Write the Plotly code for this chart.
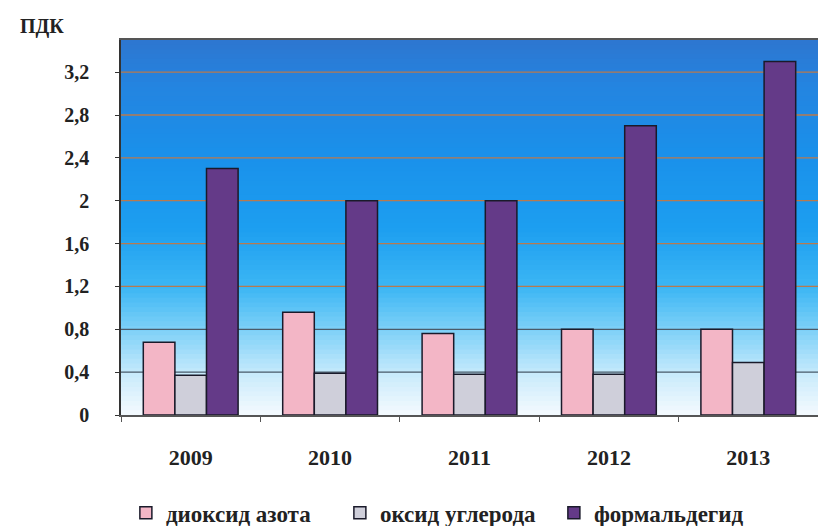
import plotly.graph_objects as go

years = ["2009", "2010", "2011", "2012", "2013"]
no2 = [0.68, 0.96, 0.76, 0.80, 0.80]
co = [0.37, 0.39, 0.38, 0.38, 0.49]
ch2o = [2.30, 2.00, 2.00, 2.70, 3.30]
series_names = ["диоксид азота", "оксид углерода", "формальдегид"]
tick_vals = [0, 0.4, 0.8, 1.2, 1.6, 2.0, 2.4, 2.8, 3.2]
tick_text = ["0", "0,4", "0,8", "1,2", "1,6", "2", "2,4", "2,8", "3,2"]

colors = ["#f3b6c6", "#cfcfda", "#643a88"]
FONT = "'Liberation Serif', 'DejaVu Serif', serif"

fig = go.Figure()
for name, vals, col in zip(series_names, [no2, co, ch2o], colors):
    fig.add_trace(go.Bar(
        x=years, y=vals, name=name,
        marker=dict(color=col, line=dict(color="#1a1a2a", width=1.5)),
    ))

# gradient background (bottom -> top)
stops = [
    (0.00, (244, 250, 254)),
    (0.10, (205, 236, 252)),
    (0.22, (130, 210, 248)),
    (0.34, (60, 182, 244)),
    (0.50, (28, 158, 240)),
    (0.70, (26, 144, 234)),
    (0.88, (36, 132, 224)),
    (1.00, (46, 118, 208)),
]

def interp(f):
    for (f0, c0), (f1, c1) in zip(stops[:-1], stops[1:]):
        if f0 <= f <= f1:
            t = (f - f0) / (f1 - f0) if f1 > f0 else 0
            return tuple(round(a + (b - a) * t) for a, b in zip(c0, c1))
    return stops[-1][1]

shapes = []
N = 80
for i in range(N):
    f = (i + 0.5) / N
    r, g, b = interp(f)
    shapes.append(dict(type="rect", xref="x domain", yref="y domain",
                       x0=0, x1=1, y0=i / N, y1=(i + 1) / N + 0.002,
                       fillcolor=f"rgb({r},{g},{b})", line=dict(width=0),
                       layer="below"))
# gridlines (lower ones darker, upper ones brownish-orange)
for v in tick_vals:
    if v > 0:
        col = "#4a5a6a" if v < 1.0 else "#b87a4e"
        shapes.append(dict(type="line", xref="x domain", yref="y",
                           x0=0, x1=1, y0=v, y1=v,
                           line=dict(color=col, width=1.3), layer="below"))

fig.update_layout(
    width=818, height=526,
    margin=dict(l=121, r=0, t=40, b=111, autoexpand=False),
    paper_bgcolor="white", plot_bgcolor="rgba(0,0,0,0)",
    barmode="group", bargap=0.32, bargroupgap=0,
    shapes=shapes,
    font=dict(family=FONT, size=18, color="#222222"),
    showlegend=True,
    legend=dict(orientation="h", x=0.007, xanchor="left", y=-0.261, yanchor="middle",
                entrywidth=169, entrywidthmode="pixels",
                font=dict(family=FONT, size=23, color="#222222", weight="bold"),
                itemwidth=30, traceorder="normal"),
    annotations=[dict(text="<b>ПДК</b>", xref="paper", yref="paper",
                      x=-0.148, y=1.036, xanchor="left", yanchor="middle",
                      showarrow=False, font=dict(family=FONT, size=20, color="#222222"))],
)
fig.update_xaxes(
    showline=True, linecolor="#555555", linewidth=1.5, mirror=True,
    ticks="outside", tickson="boundaries", ticklen=5, tickcolor="#555555",
    tickfont=dict(family=FONT, size=22, color="#222222", weight="bold"),
    showgrid=False, ticklabelstandoff=22,
)
fig.update_yaxes(
    range=[0, 3.5], tickvals=tick_vals, ticktext=tick_text,
    showline=True, linecolor="#333333", linewidth=1.5,
    ticks="outside", ticklen=4, tickcolor="#333333",
    showgrid=False,
    tickfont=dict(family=FONT, size=20, color="#222222", weight="bold"),
    zeroline=False, ticklabelstandoff=22,
)
fig.write_html("out.html")
